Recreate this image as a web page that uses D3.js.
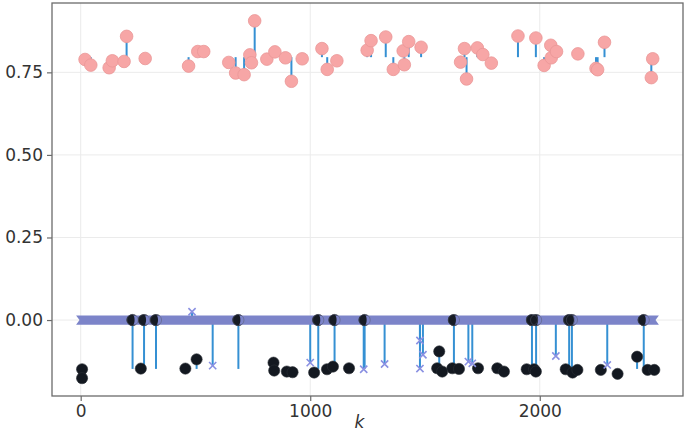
<!DOCTYPE html>
<html>
<head>
<meta charset="utf-8">
<script src="https://cdn.jsdelivr.net/npm/d3@7"></script>
<style>
  body { margin: 0; background: #fff; }
  text { font-family: "DejaVu Sans", sans-serif; }
</style>
</head>
<body>
<svg id="chart"></svg>
<script>
// upper series (pink circles), stems to topBase
const topK = [19, 44, 124, 138, 189, 200, 281, 470, 510, 536, 645, 675, 712, 737, 744, 758, 811, 846, 892, 918,
  965, 1051, 1074, 1116, 1248, 1265, 1329, 1362, 1405, 1410, 1429, 1483, 1655, 1672, 1681, 1728, 1752, 1789,
  1905, 1983, 2019, 2048, 2050, 2073, 2166, 2245, 2252, 2282, 2486, 2492];
const topV = [0.789, 0.772, 0.764, 0.785, 0.783, 0.859, 0.792, 0.769, 0.813, 0.813, 0.780, 0.748, 0.743, 0.803,
  0.779, 0.906, 0.790, 0.812, 0.794, 0.723, 0.791, 0.822, 0.759, 0.785, 0.817, 0.846, 0.857, 0.759, 0.815, 0.773,
  0.843, 0.826, 0.781, 0.822, 0.730, 0.824, 0.804, 0.778, 0.860, 0.854, 0.771, 0.832, 0.794, 0.813, 0.806, 0.762,
  0.758, 0.841, 0.734, 0.791];
const topBase = 0.796;

// lower series (black circles), stems to botBase
const botK = [6, 6, 226, 262, 276, 328, 456, 505, 687, 840, 843, 898, 923, 1017, 1035, 1073, 1099, 1106, 1169,
  1237, 1553, 1562, 1575, 1619, 1626, 1648, 1731, 1815, 1844, 1943, 1966, 1975, 1983, 1984, 2113, 2128, 2140,
  2143, 2164, 2266, 2339, 2424, 2453, 2470, 2499];
const botV = [-0.149, -0.176, 0, -0.147, 0, 0, -0.147, -0.119, 0, -0.129, -0.153, -0.156, -0.158, -0.159, 0,
  -0.149, -0.141, 0, -0.146, 0, -0.146, -0.095, -0.156, -0.146, 0, -0.148, -0.146, -0.146, -0.156, -0.149, 0,
  -0.149, -0.156, 0, -0.149, 0, 0, -0.159, -0.151, -0.151, -0.163, -0.111, 0, -0.151, -0.151];
const botBase = -0.148;

// x-marker series: sits on 0 from bandK[0] to bandK[1], these are the points off the band
const bandK = [0, 2499];
const crossK = [485, 575, 1000, 1233, 1324, 1478, 1478, 1491, 1689, 1706, 2070, 2294];
const crossV = [0.025, -0.138, -0.129, -0.149, -0.133, -0.062, -0.147, -0.105, -0.126, -0.131, -0.109, -0.136];

const xTicks = [0, 1000, 2000];
const yTicks = [0, 0.25, 0.5, 0.75];

const W = 685, H = 432;
const margin = {left: 52, right: 2, top: 3, bottom: 36};

const svg = d3.select('#chart')
    .attr("width", W)
    .attr("height", H);

const x = d3.scaleLinear().domain([-125, 2624]).range([margin.left, W - margin.right]);
const y = d3.scaleLinear().domain([-0.23, 0.96]).range([H - margin.bottom, margin.top]);

const stemColor = "#3590d3";

// grid
svg.append("g").selectAll("line").data(xTicks).enter().append("line")
    .attr("x1", d => x(d)).attr("x2", d => x(d))
    .attr("y1", y.range()[0]).attr("y2", y.range()[1])
    .attr("stroke", "#ebebeb").attr("stroke-width", 1);
svg.append("g").selectAll("line").data(yTicks).enter().append("line")
    .attr("y1", d => y(d)).attr("y2", d => y(d))
    .attr("x1", x.range()[0]).attr("x2", x.range()[1])
    .attr("stroke", "#ebebeb").attr("stroke-width", 1);

// upper stems + circles
const topData = topK.map((k, i) => ({k: k, v: topV[i]}));
svg.append("g").selectAll("line").data(topData).enter().append("line")
    .attr("x1", d => x(d.k)).attr("x2", d => x(d.k))
    .attr("y1", y(topBase)).attr("y2", d => y(d.v))
    .attr("stroke", stemColor).attr("stroke-width", 2);
svg.append("g").selectAll("circle").data(topData).enter().append("circle")
    .attr("cx", d => x(d.k)).attr("cy", d => y(d.v)).attr("r", 6.3)
    .attr("fill", "#f7a6a6").attr("stroke", "#ea9797").attr("stroke-width", 0.8);

// lower stems
const botData = botK.map((k, i) => ({k: k, v: botV[i]}));
const crossData = crossK.map((k, i) => ({k: k, v: crossV[i]}));
svg.append("g").selectAll("line").data(botData).enter().append("line")
    .attr("x1", d => x(d.k)).attr("x2", d => x(d.k))
    .attr("y1", y(botBase)).attr("y2", d => y(d.v))
    .attr("stroke", stemColor).attr("stroke-width", 2);
svg.append("g").selectAll("line").data(crossData).enter().append("line")
    .attr("x1", d => x(d.k)).attr("x2", d => x(d.k))
    .attr("y1", y(0)).attr("y2", d => y(d.v))
    .attr("stroke", stemColor).attr("stroke-width", 2);

// black circles
svg.append("g").selectAll("circle").data(botData).enter().append("circle")
    .attr("cx", d => x(d.k)).attr("cy", d => y(d.v)).attr("r", 5.6)
    .attr("fill", "#131820").attr("stroke", "#2a2f36").attr("stroke-width", 0.6);

// band of x markers along 0
const hw = 4.6, y0 = y(0), xa = x(bandK[0]), xb = x(bandK[1]);
svg.append("path")
    .attr("d", `M${xa - hw},${y0 - hw} L${xb + hw},${y0 - hw} L${xb + 1.2},${y0} L${xb + hw},${y0 + hw}
                L${xa - hw},${y0 + hw} L${xa - 1.2},${y0} Z`)
    .attr("fill", "#7c84c9");

// black circles sitting on 0 show their left half over the band
const onZero = botData.filter(d => d.v === 0);
const r0 = 5.6;
svg.append("g").selectAll("path").data(onZero).enter().append("path")
    .attr("d", d => `M${x(d.k)},${y0 - r0} A${r0},${r0} 0 0 0 ${x(d.k)},${y0 + r0} A${r0 * 0.45},${r0} 0 0 0 ${x(d.k)},${y0 - r0} Z`)
    .attr("transform", "translate(-0.5,0)")
    .attr("fill", "#161b24");
svg.append("g").selectAll("circle").data(onZero).enter().append("circle")
    .attr("cx", d => x(d.k)).attr("cy", y0).attr("r", r0)
    .attr("fill", "none").attr("stroke", "#55596a").attr("stroke-opacity", 0.6).attr("stroke-width", 0.8);

// off-band x markers
const s = 3.6;
svg.append("g").selectAll("path").data(crossData).enter().append("path")
    .attr("d", d => {
        const cx = x(d.k), cy = y(d.v);
        return `M${cx - s},${cy - s} L${cx + s},${cy + s} M${cx - s},${cy + s} L${cx + s},${cy - s}`;
    })
    .attr("stroke", "#8a90e2").attr("stroke-width", 1.6).attr("fill", "none");

// spines
svg.append("rect")
    .attr("x", margin.left).attr("y", margin.top)
    .attr("width", W - margin.right - margin.left).attr("height", H - margin.bottom - margin.top)
    .attr("fill", "none").attr("stroke", "#6b6b6b").attr("stroke-width", 1.3);

// axes
const xAxis = svg.append("g")
    .attr("transform", "translate(0," + (H - margin.bottom) + ")")
    .call(d3.axisBottom(x).tickValues(xTicks).tickFormat(d3.format("d")).tickSize(5).tickPadding(4));
const yAxis = svg.append("g")
    .attr("transform", "translate(" + margin.left + ",0)")
    .call(d3.axisLeft(y).tickValues(yTicks).tickFormat(d3.format(".2f")).tickSize(5).tickPadding(4));
[xAxis, yAxis].forEach(a => {
    a.select(".domain").remove();
    a.selectAll(".tick line").attr("stroke", "#6b6b6b").attr("stroke-width", 1.2);
    a.selectAll(".tick text").attr("fill", "#333").style("font-size", "17px").style("font-family", "DejaVu Sans");
});

svg.append("text")
    .attr("x", (x.range()[0] + x.range()[1]) / 2 - 8).attr("y", H - 4)
    .attr("text-anchor", "middle")
    .attr("font-style", "italic").attr("font-size", "17px").attr("fill", "#333")
    .text("k");
</script>
</body>
</html>
